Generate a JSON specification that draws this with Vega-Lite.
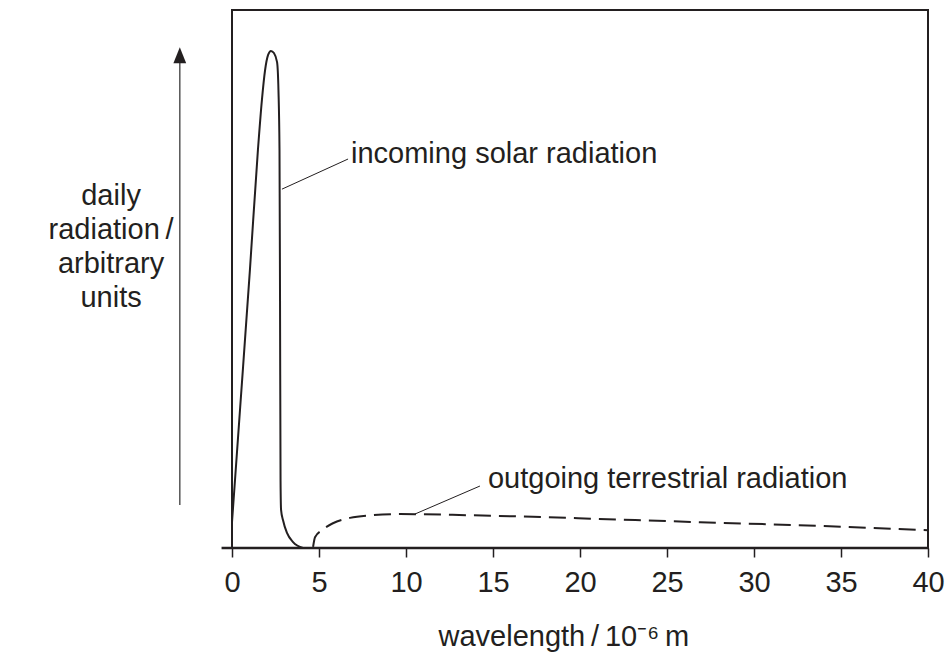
{
  "$schema": "https://vega.github.io/schema/vega-lite/v6.json",
  "width": 696,
  "height": 538,
  "autosize": "none",
  "padding": {"left": 232, "top": 10, "right": 22, "bottom": 110},
  "background": "white",
  "config": {
    "font": "Liberation Sans",
    "view": {"stroke": "#231f20", "strokeWidth": 2},
    "axis": {"grid": false}
  },
  "datasets": {
    "solar": [
      {"x": 0, "y": 4.8},
      {"x": 0.46, "y": 25.7},
      {"x": 1.03, "y": 51.7},
      {"x": 1.49, "y": 74.0},
      {"x": 1.72, "y": 83.3},
      {"x": 1.9, "y": 88.8},
      {"x": 2.07, "y": 91.6},
      {"x": 2.24, "y": 92.4},
      {"x": 2.41, "y": 92.0},
      {"x": 2.59, "y": 90.3},
      {"x": 2.67, "y": 85.1},
      {"x": 2.73, "y": 74.0},
      {"x": 2.76, "y": 46.0},
      {"x": 2.79, "y": 12.6},
      {"x": 2.82, "y": 7.1},
      {"x": 2.93, "y": 5.2},
      {"x": 3.16, "y": 2.8},
      {"x": 3.51, "y": 1.1},
      {"x": 4.08, "y": 0}
    ],
    "terrestrial": [
      {"x": 4.66, "y": 0.2},
      {"x": 4.77, "y": 2.0},
      {"x": 5.17, "y": 3.3},
      {"x": 5.8, "y": 4.6},
      {"x": 6.78, "y": 5.6},
      {"x": 8.1, "y": 6.1},
      {"x": 9.66, "y": 6.3},
      {"x": 13.5, "y": 6.1},
      {"x": 17.3, "y": 5.8},
      {"x": 21.1, "y": 5.4},
      {"x": 26.9, "y": 4.8},
      {"x": 33.8, "y": 4.1},
      {"x": 40, "y": 3.3}
    ],
    "leaders": [
      {"x": 2.87, "y": 66.7, "x2": 6.67, "y2": 72.3},
      {"x": 10.52, "y": 6.32, "x2": 14.25, "y2": 11.52}
    ],
    "baseline": [{"x": -0.6, "x2": 40, "y": 0}],
    "arrow": [{"x": -3, "y": 8, "y2": 91.6}],
    "arrowhead": [{"x": -3, "y": 91.6}],
    "notes": [
      {"x": 6.84, "y": 71.6, "text": "incoming solar radiation"},
      {"x": 14.71, "y": 11.15, "text": "outgoing terrestrial radiation"}
    ],
    "ylabel": [
      {"x": -6.95, "y": 63.75, "text": "daily"},
      {"x": -6.95, "y": 57.4, "text": "radiation\u2009/"},
      {"x": -6.95, "y": 51.1, "text": "arbitrary"},
      {"x": -6.95, "y": 44.8, "text": "units"}
    ]
  },
  "encoding": {
    "x": {
      "field": "x",
      "type": "quantitative",
      "scale": {"domain": [0, 40], "nice": false, "zero": false},
      "axis": {
        "values": [0, 5, 10, 15, 20, 25, 30, 35, 40],
        "domain": false,
        "ticks": true,
        "tickSize": 9,
        "tickWidth": 1.5,
        "tickColor": "#231f20",
        "labelFontSize": 29,
        "labelColor": "#231f20",
        "labelPadding": 11,
        "labelFlush": false,
        "title": "wavelength\u2009/\u200910⁻⁶\u2009m",
        "titleFontSize": 29,
        "titleFontWeight": "normal",
        "titleColor": "#231f20",
        "titleAlign": "left",
        "titleBaseline": "alphabetic",
        "titleX": 206,
        "titleY": 97
      }
    },
    "y": {
      "field": "y",
      "type": "quantitative",
      "scale": {"domain": [0, 100], "nice": false, "zero": false},
      "axis": null
    }
  },
  "layer": [
    {
      "data": {"name": "solar"},
      "mark": {"type": "line", "interpolate": "monotone", "color": "#231f20", "strokeWidth": 2}
    },
    {
      "data": {"name": "terrestrial"},
      "mark": {"type": "line", "interpolate": "monotone", "color": "#231f20", "strokeWidth": 2, "strokeDash": [17, 8]}
    },
    {
      "data": {"name": "leaders"},
      "mark": {"type": "rule", "color": "#231f20", "strokeWidth": 1},
      "encoding": {"x2": {"field": "x2"}, "y2": {"field": "y2"}}
    },
    {
      "data": {"name": "baseline"},
      "mark": {"type": "rule", "color": "#231f20", "strokeWidth": 2.5},
      "encoding": {"x2": {"field": "x2"}}
    },
    {
      "data": {"name": "arrow"},
      "mark": {"type": "rule", "color": "#555555", "strokeWidth": 1.5},
      "encoding": {"y2": {"field": "y2"}}
    },
    {
      "data": {"name": "arrowhead"},
      "mark": {"type": "point", "shape": "M0,-1L-0.8,1L0.8,1Z", "size": 256, "filled": true, "color": "#231f20", "opacity": 1}
    },
    {
      "data": {"name": "notes"},
      "mark": {"type": "text", "align": "left", "baseline": "alphabetic", "fontSize": 29, "color": "#231f20"},
      "encoding": {"text": {"field": "text"}}
    },
    {
      "data": {"name": "ylabel"},
      "mark": {"type": "text", "align": "center", "baseline": "alphabetic", "fontSize": 29, "color": "#231f20"},
      "encoding": {"text": {"field": "text"}}
    }
  ]
}
